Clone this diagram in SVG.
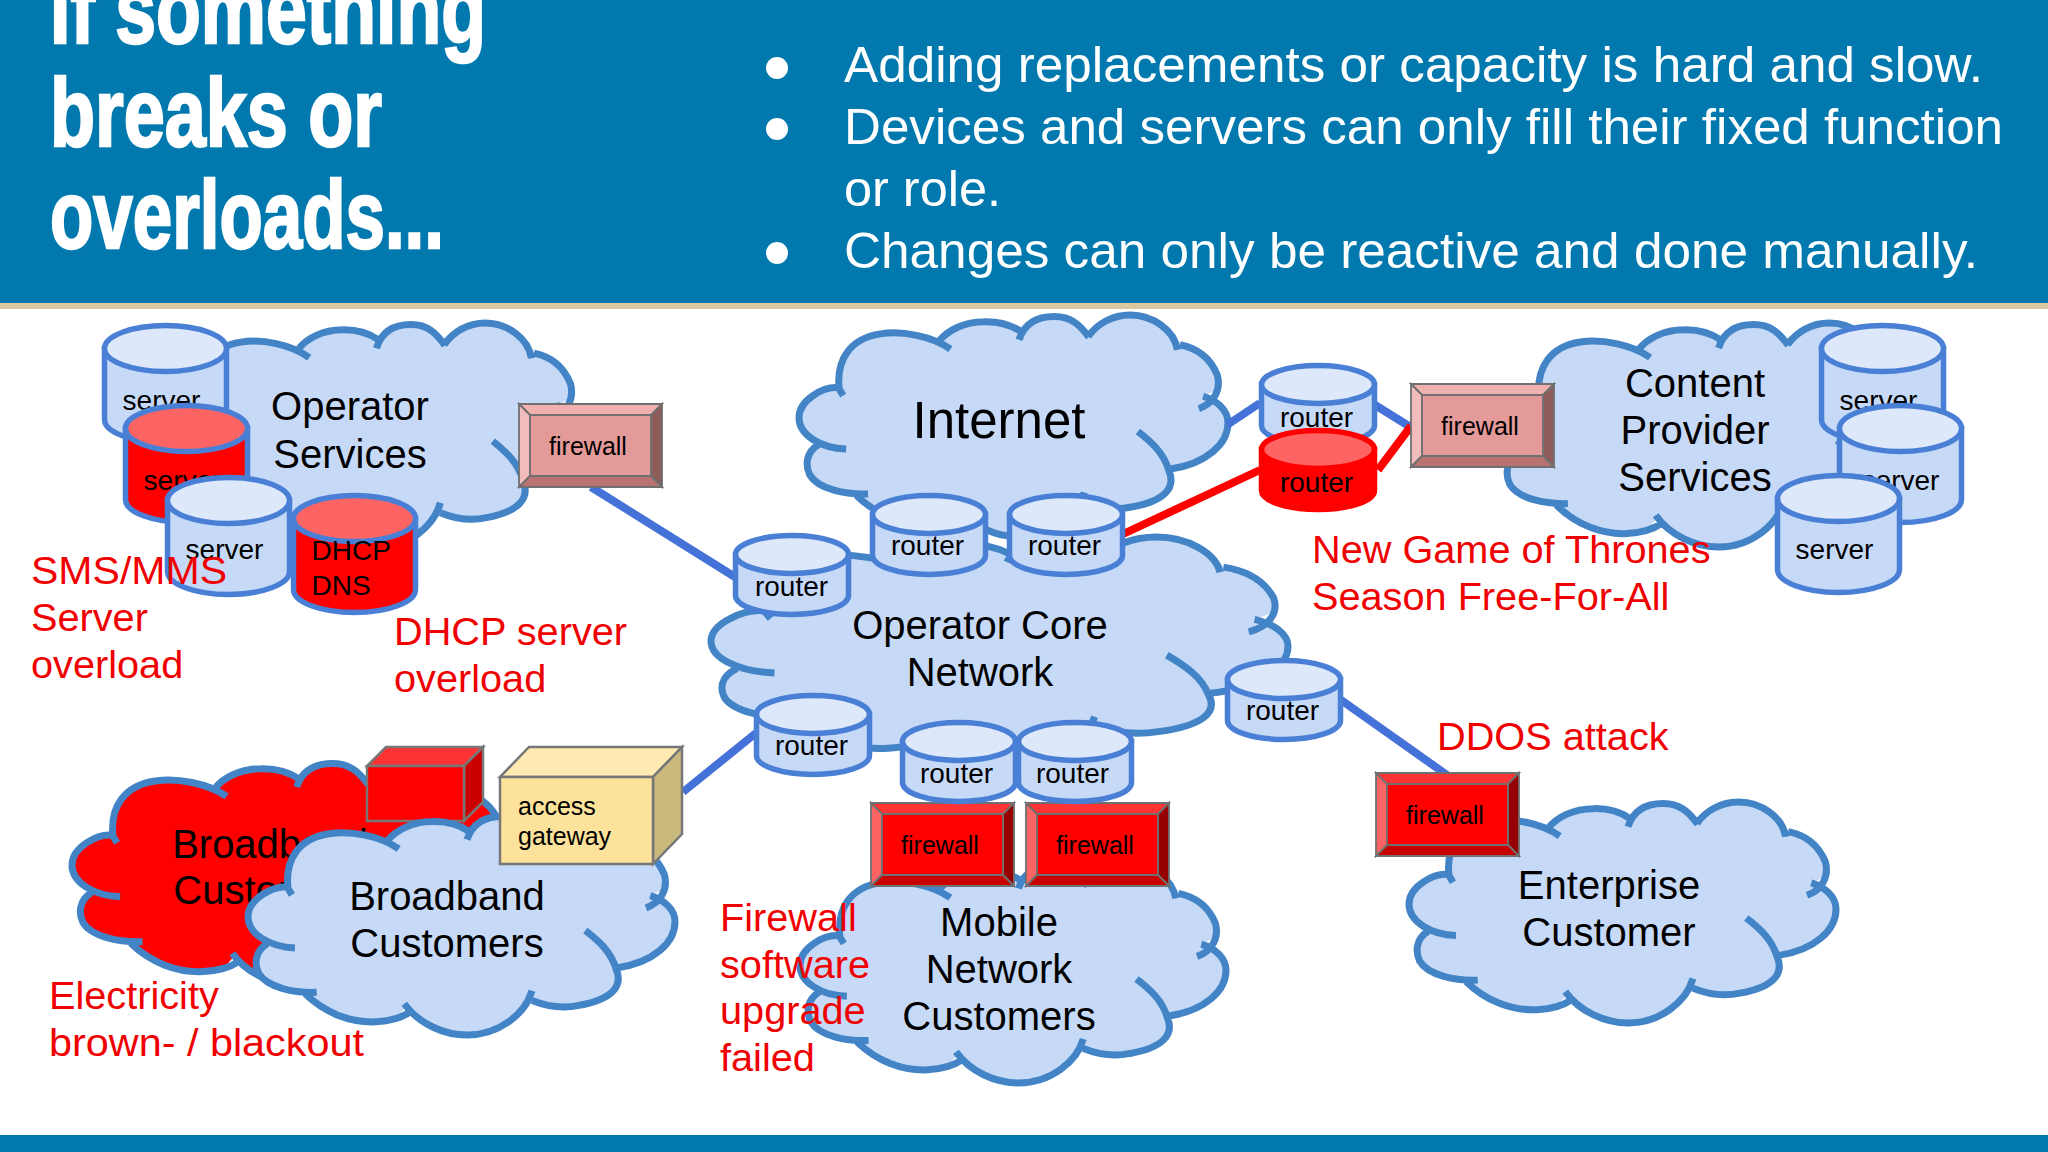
<svg xmlns="http://www.w3.org/2000/svg" width="2048" height="1152" viewBox="0 0 2048 1152">
<style>
text{font-family:"Liberation Sans",Arial,sans-serif}
.cf{fill:#c6d9f6}.cfr{fill:#ff0000}
.cs{fill:none;stroke:#4384c6;stroke-width:7;stroke-linecap:butt}
.bb{fill:#c6d9f6;stroke:#4a7fd6;stroke-width:5.500}.bt{fill:#dde8fa;stroke:#4a7fd6;stroke-width:5.500}
.rb{fill:#ff0000;stroke:#4a7fd6;stroke-width:5.500}.rt{fill:#ff6464;stroke:#4a7fd6;stroke-width:5.500}
.xb{fill:#ff0000;stroke:#ff0000;stroke-width:5.500}.xt{fill:#ff6464;stroke:#ff0000;stroke-width:5.500}
.cl{font-size:28px;fill:#000;text-anchor:middle}
.fl{font-size:25px;fill:#000;text-anchor:middle}
.big{font-size:40px;fill:#000;text-anchor:middle}
.red{font-size:39.700px;fill:#f00000}
.edge{stroke:#4472d8;stroke-width:8;fill:none}.edgeR{stroke:#ff0000;stroke-width:8;fill:none}
.title{font-size:96px;font-weight:700;fill:#fff;stroke:#fff;stroke-width:2.500}
.bul{font-size:50px;fill:#fff}
.ft,.fL,.fR,.fB,.fF{stroke:#707070;stroke-width:1.800}
.ft{fill:var(--t)}.fL{fill:var(--l)}.fR{fill:var(--r)}.fB{fill:var(--b)}.fF{fill:var(--f)}
.pink{--t:#f0b0b0;--l:#f2bcbc;--r:#8f5c5c;--b:#b87272;--f:#e59a9a}
.hot{--t:#ff3333;--l:#ff6464;--r:#960000;--b:#c80000;--f:#ff0000}
</style>
<defs>
<path id="cfill" vector-effect="non-scaling-stroke" d="M92,328 C60,320 0,380 0,463 C0,540 30,570 45,585 C15,620 15,680 25,720 C45,785 100,810 134,813 C180,900 240,945 300,940 C340,935 350,920 366,880 C400,950 460,1000 513,1000 C590,1000 650,920 665,843 C700,870 740,880 775,865 C850,840 870,770 866,694 C950,670 1000,580 1000,485 C1000,430 975,385 942,366 C975,340 985,320 975,270 C960,200 930,150 888,134 C875,70 825,0 772,0 C730,0 695,40 674,97 C655,45 635,7 595,7 C555,7 525,40 518,75 C495,45 470,28 432,30 C385,30 345,70 326,119 C300,95 240,70 190,85 C120,105 85,200 92,328 Z"/>
<path id="cline" vector-effect="non-scaling-stroke" d="M103,363 L92,328 C60,320 0,380 0,463 C0,540 50,600 110,604 M45,585 C15,620 15,680 25,720 C45,785 110,810 161,806 M134,813 C180,900 240,945 300,940 C340,935 365,915 379,896 M366,858 C400,950 460,1000 513,1000 C590,1000 650,900 665,799 M665,843 C700,870 740,880 775,865 C850,840 880,780 862,700 C850,620 820,570 790,525 M866,694 C950,670 1000,580 1000,485 C1000,430 975,385 942,366 M932,422 C965,400 985,340 975,270 C960,200 930,150 888,134 M882,157 C875,70 825,0 772,0 C730,0 695,40 674,97 M676,100 C655,45 635,7 595,7 C555,7 525,40 513,112 M518,75 C495,45 470,28 432,30 C385,30 345,70 326,119 M353,154 C310,95 240,70 190,85 C120,105 85,200 94,340"/>
<path id="rBody" d="M0,19V60A56.500,19 0 0 0 113,60V19Z"/>
<ellipse id="rTop" cx="56.500" cy="19" rx="56.500" ry="19"/>
<path id="sBody" d="M0,23V94A61,23 0 0 0 122,94V23Z"/>
<ellipse id="sTop" cx="61" cy="23" rx="61" ry="23"/>
<g id="fwShape">
<path d="M0,0H143L132,11H11Z" class="ft"/>
<path d="M0,0V83L11,72V11Z" class="fL"/>
<path d="M143,0V83L132,72V11Z" class="fR"/>
<path d="M0,83H143L132,72H11Z" class="fB"/>
<path d="M11,11H132V72H11Z" class="fF"/>
</g>
</defs>
<rect x="0" y="0" width="2048" height="1152" fill="#ffffff"/>
<rect x="0" y="0" width="2048" height="303" fill="#0279ae"/>
<rect x="0" y="303" width="2048" height="6" fill="#dac9a0"/>
<rect x="0" y="1135" width="2048" height="17" fill="#0279ae"/>
<g id="title">
<text class="title" x="50" y="43" textLength="436" lengthAdjust="spacingAndGlyphs">If something</text>
<text class="title" x="50" y="146" textLength="332" lengthAdjust="spacingAndGlyphs">breaks or</text>
<text class="title" x="50" y="248" textLength="394" lengthAdjust="spacingAndGlyphs">overloads...</text>
</g>
<g id="bullets">
<circle cx="777" cy="68" r="11" fill="#fff"/><circle cx="777" cy="129" r="11" fill="#fff"/><circle cx="777" cy="253" r="11" fill="#fff"/>
<text class="bul" x="844" y="82" textLength="1139" lengthAdjust="spacingAndGlyphs">Adding replacements or capacity is hard and slow.</text>
<text class="bul" x="844" y="144" textLength="1159" lengthAdjust="spacingAndGlyphs">Devices and servers can only fill their fixed function</text>
<text class="bul" x="844" y="206" textLength="157" lengthAdjust="spacingAndGlyphs">or role.</text>
<text class="bul" x="844" y="268" textLength="1134" lengthAdjust="spacingAndGlyphs">Changes can only be reactive and done manually.</text>
</g>
<g id="cloud-operator-services"><g transform="translate(161,323) scale(.42,.225)"><use href="#cfill" class="cf"/><use href="#cline" class="cs"/></g><text class="big" x="350" y="420">Operator</text><text class="big" x="350" y="468">Services</text></g>
<g id="cloud-internet"><g transform="translate(799,315) scale(.429,.222)"><use href="#cfill" class="cf"/><use href="#cline" class="cs"/></g><text class="big" style="font-size:51px" x="999" y="438">Internet</text></g>
<g id="cloud-core"><g transform="translate(711,537) scale(.577,.225)"><use href="#cfill" class="cf"/><use href="#cline" class="cs"/></g><text class="big" x="980" y="639">Operator Core</text><text class="big" x="980" y="686">Network</text></g>
<g id="cloud-content"><g transform="translate(1499,323) scale(.428,.224)"><use href="#cfill" class="cf"/><use href="#cline" class="cs"/></g><text class="big" x="1695" y="397">Content</text><text class="big" x="1695" y="444">Provider</text><text class="big" x="1695" y="491">Services</text></g>
<g id="cloud-broadband-down"><g transform="translate(72,762) scale(.438,.223)"><use href="#cfill" class="cfr"/><use href="#cline" class="cs"/></g><text class="big" x="270" y="858">Broadband</text><text class="big" x="270" y="904">Customers</text></g>
<g id="box-down"><path d="M367,766H464L483,747H386Z" fill="#ff3333" stroke="#777" stroke-width="2.500"/><path d="M464,766L483,747V802L464,821Z" fill="#cc0000" stroke="#777" stroke-width="2.500"/><rect x="367" y="766" width="97" height="55" fill="#ff0000" stroke="#777" stroke-width="2.500"/></g>
<g id="cloud-broadband"><g transform="translate(248,815) scale(.427,.22)"><use href="#cfill" class="cf"/><use href="#cline" class="cs"/></g><text class="big" x="447" y="910">Broadband</text><text class="big" x="447" y="957">Customers</text></g>
<g id="cloud-mobile"><g transform="translate(800,864) scale(.426,.219)"><use href="#cfill" class="cf"/><use href="#cline" class="cs"/></g><text class="big" x="999" y="936">Mobile</text><text class="big" x="999" y="983">Network</text><text class="big" x="999" y="1030">Customers</text></g>
<g id="cloud-enterprise"><g transform="translate(1409,802) scale(.427,.221)"><use href="#cfill" class="cf"/><use href="#cline" class="cs"/></g><text class="big" x="1609" y="899">Enterprise</text><text class="big" x="1609" y="946">Customer</text></g>
<g id="connectors">
<path class="edge" d="M591,487L735,577"/>
<path class="edge" d="M1227,425L1260,403"/>
<path class="edge" d="M1375,405L1412,428"/>
<path class="edgeR" d="M1121,535L1260,470"/>
<path class="edgeR" d="M1378,470L1411,426"/>
<path class="edge" d="M1341,700L1447,775"/>
<path class="edge" d="M683,792L756,733"/>
</g>
<g id="firewall-operator" class="pink" transform="translate(519,404)"><use href="#fwShape"/><text class="fl" x="69" y="51">firewall</text></g>
<g id="firewall-content" class="pink" transform="translate(1411,384)"><use href="#fwShape"/><text class="fl" x="69" y="51">firewall</text></g>
<g id="firewall-mobile-1" class="hot" transform="translate(871,803)"><use href="#fwShape"/><text class="fl" x="69" y="51">firewall</text></g>
<g id="firewall-mobile-2" class="hot" transform="translate(1026,803)"><use href="#fwShape"/><text class="fl" x="69" y="51">firewall</text></g>
<g id="firewall-enterprise" class="hot" transform="translate(1376,773)"><use href="#fwShape"/><text class="fl" x="69" y="51">firewall</text></g>
<g id="gateway"><path d="M500,777H653L682,747H529Z" fill="#ffeab2" stroke="#777" stroke-width="2.500"/><path d="M653,777L682,747V834L653,864Z" fill="#c9b97c" stroke="#777" stroke-width="2.500"/><rect x="500" y="777" width="153" height="87" fill="#fde29b" stroke="#777" stroke-width="2.500"/><text x="518" y="815" style="font-size:25px">access</text><text x="518" y="845" style="font-size:25px">gateway</text></g>
<g id="server-1" transform="translate(104.500,325.500)"><use href="#sBody" class="bb"/><use href="#sTop" class="bt"/><text class="cl" x="57" y="84">server</text></g>
<g id="server-2" transform="translate(125.500,405.500)"><use href="#sBody" class="rb"/><use href="#sTop" class="rt"/><text class="cl" x="57" y="84">server</text></g>
<g id="server-3" transform="translate(167.500,477.500)"><use href="#sBody" class="bb"/><use href="#sTop" class="bt"/><text class="cl" x="57" y="81">server</text></g>
<g id="server-dhcp" transform="translate(293.500,495.500)"><use href="#sBody" class="rb"/><use href="#sTop" class="rt"/><text x="18" y="64" style="font-size:28px">DHCP</text><text x="18" y="99" style="font-size:28px">DNS</text></g>
<g id="server-4" transform="translate(1821.500,325.500)"><use href="#sBody" class="bb"/><use href="#sTop" class="bt"/><text class="cl" x="57" y="84">server</text></g>
<g id="server-5" transform="translate(1839.500,405.500)"><use href="#sBody" class="bb"/><use href="#sTop" class="bt"/><text class="cl" x="61" y="84">server</text></g>
<g id="server-6" transform="translate(1777.500,475.500)"><use href="#sBody" class="bb"/><use href="#sTop" class="bt"/><text class="cl" x="57" y="83">server</text></g>
<g id="router-core-left" transform="translate(735.500,535.500)"><use href="#rBody" class="bb"/><use href="#rTop" class="bt"/><text class="cl" x="56" y="60">router</text></g>
<g id="router-internet-1" transform="translate(872.500,495.500)"><use href="#rBody" class="bb"/><use href="#rTop" class="bt"/><text class="cl" x="55" y="59">router</text></g>
<g id="router-internet-2" transform="translate(1009.500,495.500)"><use href="#rBody" class="bb"/><use href="#rTop" class="bt"/><text class="cl" x="55" y="59">router</text></g>
<g id="router-content" transform="translate(1261.500,365.500)"><use href="#rBody" class="bb"/><use href="#rTop" class="bt"/><text class="cl" x="55" y="61">router</text></g>
<g id="router-red" transform="translate(1261.500,430.500)"><use href="#rBody" class="xb"/><use href="#rTop" class="xt"/><text class="cl" x="55" y="61">router</text></g>
<g id="router-core-right" transform="translate(1227.500,660.500)"><use href="#rBody" class="bb"/><use href="#rTop" class="bt"/><text class="cl" x="55" y="59">router</text></g>
<g id="router-gateway" transform="translate(756.500,695.500)"><use href="#rBody" class="bb"/><use href="#rTop" class="bt"/><text class="cl" x="55" y="59">router</text></g>
<g id="router-mobile-1" transform="translate(902.500,722.500)"><use href="#rBody" class="bb"/><use href="#rTop" class="bt"/><text class="cl" x="54" y="60">router</text></g>
<g id="router-mobile-2" transform="translate(1018.500,722.500)"><use href="#rBody" class="bb"/><use href="#rTop" class="bt"/><text class="cl" x="54" y="60">router</text></g>
<g id="notes">
<text class="red" x="31" y="584" textLength="196" lengthAdjust="spacingAndGlyphs">SMS/MMS</text><text class="red" x="31" y="631">Server</text><text class="red" x="31" y="678">overload</text>
<text class="red" x="394" y="645">DHCP server</text><text class="red" x="394" y="692">overload</text>
<text class="red" x="1312" y="563">New Game of Thrones</text><text class="red" x="1312" y="610">Season Free-For-All</text>
<text class="red" x="1437" y="750">DDOS attack</text>
<text class="red" x="49" y="1009">Electricity</text><text class="red" x="49" y="1056" textLength="315" lengthAdjust="spacingAndGlyphs">brown- / blackout</text>
<text class="red" x="720" y="931">Firewall</text><text class="red" x="720" y="978">software</text><text class="red" x="720" y="1024">upgrade</text><text class="red" x="720" y="1071">failed</text>
</g>
</svg>
